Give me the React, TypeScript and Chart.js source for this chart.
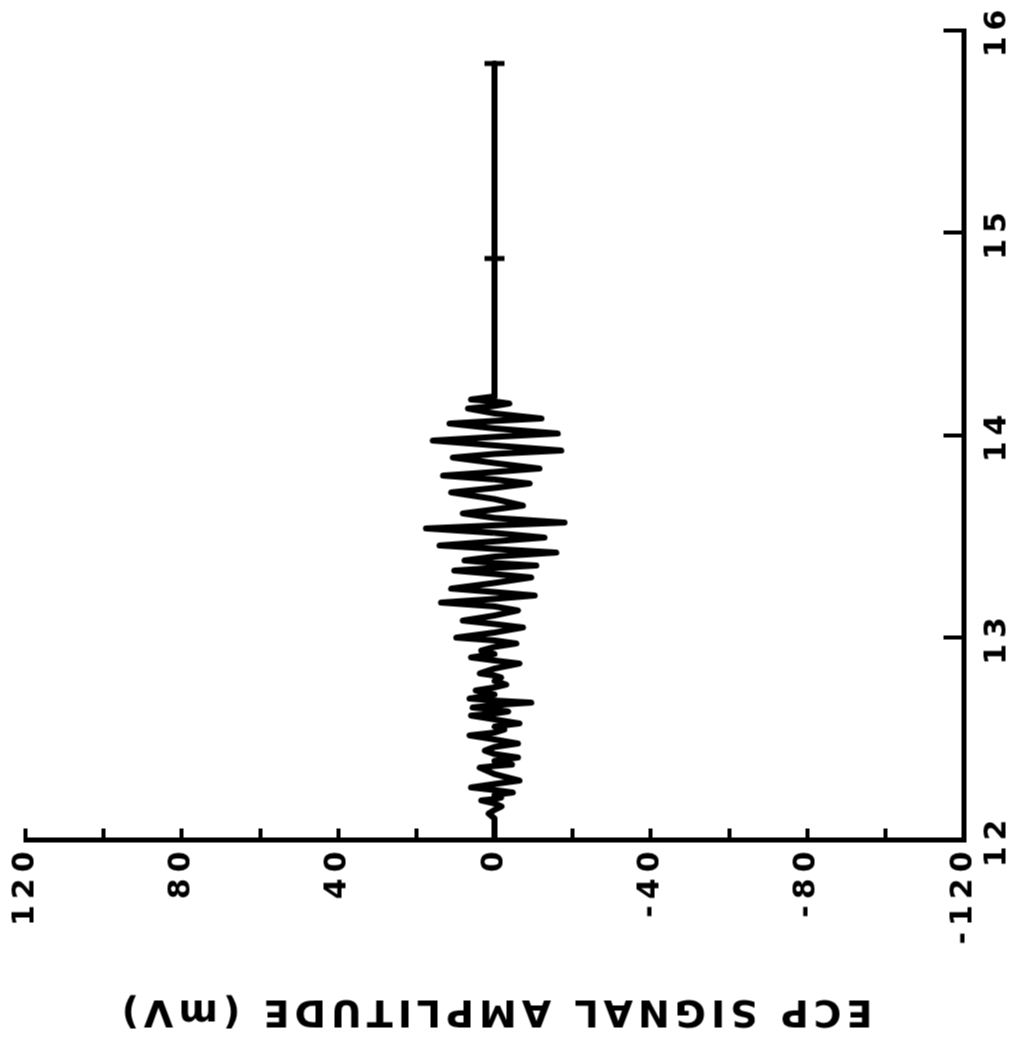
import React, { useEffect, useRef } from "react";
import { Chart, registerables } from "chart.js";

Chart.register(...registerables);

// Time axis (s) and amplitude axis (mV)
const timeMin = 12;
const timeMax = 16;
const timeStep = 1;
const ampMin = -120;
const ampMax = 120;
const ampStep = 20;
const ampLabelEvery = 40;

const yTitle = "ECP SIGNAL AMPLITUDE (mV)";

// ECP trace: time (s) and amplitude (mV)
const times = [
  12.0, 12.109, 12.133, 12.151, 12.168, 12.183, 12.198, 12.205, 12.212, 12.225,
  12.237, 12.249, 12.262, 12.279, 12.296, 12.328, 12.36, 12.368, 12.375, 12.393,
  12.41, 12.427, 12.444, 12.462, 12.479, 12.499, 12.519, 12.533, 12.548, 12.563,
  12.578, 12.598, 12.617, 12.627, 12.637, 12.647, 12.657, 12.669, 12.681, 12.691,
  12.701, 12.721, 12.741, 12.756, 12.77, 12.788, 12.805, 12.815, 12.825, 12.849,
  12.874, 12.889, 12.904, 12.921, 12.938, 12.956, 12.973, 12.988, 13.002, 13.027,
  13.052, 13.069, 13.086, 13.111, 13.136, 13.156, 13.175, 13.193, 13.21, 13.227,
  13.244, 13.272, 13.299, 13.316, 13.333, 13.346, 13.358, 13.37, 13.383, 13.402,
  13.422, 13.44, 13.457, 13.477, 13.496, 13.519, 13.541, 13.556, 13.57, 13.593,
  13.615, 13.635, 13.654, 13.686, 13.719, 13.741, 13.763, 13.783, 13.802, 13.82,
  13.837, 13.864, 13.891, 13.909, 13.926, 13.951, 13.975, 13.993, 14.01, 14.035,
  14.059, 14.072, 14.084, 14.109, 14.133, 14.146, 14.158, 14.168, 14.178, 14.193,
  14.874, 15.837,
];
const amplitudes = [
  0, 0, 1.5, 0, -1.8, 0, 3.4, 0, -1.7, 0,
  -4.7, 0, 6.0, 0, -6.4, 0, 3.8, 0, -4.5, 0,
  -6.0, 0, 2.5, 0, -6.0, 0, 6.4, 0, -2.5, 0,
  -6.4, 0, 6.0, 0, -3.5, 0, 5.6, 0, -9.4, 0,
  6.4, 0, 4.8, 0, -3.0, 0, -1.7, 0, 3.8, 0,
  -6.4, 0, 6.0, 0, 3.4, 0, -5.6, 0, 9.8, 0,
  -7.3, 0, 8.1, 0, -6.0, 0, 13.7, 0, -10.3, 0,
  11.1, 0, -9.4, 0, 10.3, 0, -10.7, 0, 7.7, 0,
  -15.8, 0, 14.1, 0, -12.8, 0, 17.5, 0, -17.9, 0,
  8.1, 0, -7.3, 0, 11.1, 0, -9.0, 0, 13.2, 0,
  -11.5, 0, 10.7, 0, -17.1, 0, 15.8, 0, -16.2, 0,
  11.5, 0, -12.0, 0, 6.8, 0, -3.8, 0, 6.0, 0,
  0, 0,
];

// Marks on the trace (mid mark and end cap)
const markerTimes = [14.874, 15.837];
const markerValues = [0, 0];

const FONT = "'DejaVu Sans', sans-serif";

const spacingPlugin = {
  id: "textSpacing",
  beforeDraw(chart: any) {
    chart.ctx.letterSpacing = "5px"; // axis title (drawn with grid layer)
  },
  afterDatasetsDraw(chart: any) {
    chart.ctx.letterSpacing = "6px"; // tick labels (z: 1)
  },
  afterDraw(chart: any) {
    chart.ctx.letterSpacing = "0px";
  },
};

export default function App() {
  const ref = useRef<HTMLCanvasElement | null>(null);

  useEffect(() => {
    if (!ref.current) return;
    const signal = times.map((t, i) => ({ x: t, y: amplitudes[i] }));
    const marks = markerTimes.map((t, i) => ({ x: t, y: markerValues[i] }));

    const chart = new Chart(ref.current, {
      type: "scatter",
      data: {
        datasets: [
          {
            label: "ECP",
            data: signal,
            showLine: true,
            borderColor: "#000",
            borderWidth: 6,
            borderJoinStyle: "round",
            borderCapStyle: "round",
            pointRadius: 0,
            tension: 0,
          },
          {
            label: "marks",
            data: marks,
            showLine: false,
            pointStyle: "line",
            pointRotation: 90,
            pointRadius: 10,
            pointBorderWidth: 5,
            borderColor: "#000",
            backgroundColor: "#000",
          },
        ],
      },
      options: {
        animation: false,
        responsive: false,
        devicePixelRatio: 1,
        layout: { padding: { top: 25, right: 30, bottom: 0, left: 0 } },
        plugins: {
          legend: { display: false },
          tooltip: { enabled: false },
        },
        scales: {
          x: {
            type: "linear",
            position: "bottom",
            min: timeMin,
            max: timeMax,
            ticks: {
              stepSize: timeStep,
              z: 1,
              color: "#000",
              padding: 36,
              maxRotation: 0,
              minRotation: 0,
              autoSkip: false,
              font: { family: FONT, weight: "bold", size: 30 },
            },
            grid: {
              drawOnChartArea: false,
              drawTicks: true,
              tickLength: -20,
              lineWidth: 4,
              color: "#000",
            },
            border: { display: true, width: 5, color: "#000" },
            afterFit: (s: any) => {
              s.height = 47;
              s.paddingLeft = 0;
              s.paddingRight = 0;
            },
          },
          y: {
            type: "linear",
            min: ampMin,
            max: ampMax,
            ticks: {
              stepSize: ampStep,
              z: 1,
              color: "#000",
              padding: 17,
              autoSkip: false,
              font: { family: FONT, weight: "bold", size: 30 },
              callback: (v: any) => (Number(v) % ampLabelEvery === 0 ? String(v) : ""),
            },
            grid: {
              drawOnChartArea: false,
              drawTicks: true,
              tickLength: -12,
              lineWidth: 4,
              color: "#000",
            },
            border: { display: true, width: 5, color: "#000" },
            title: {
              display: true,
              text: yTitle,
              color: "#000",
              font: { family: FONT, weight: "bold", size: 38 },
              padding: { top: 4, bottom: 4 },
            },
            afterFit: (s: any) => {
              s.width = 197;
              s.paddingTop = 0;
              s.paddingBottom = 0;
            },
          },
        },
      },
      plugins: [spacingPlugin],
    } as any);

    return () => chart.destroy();
  }, []);

  return (
    <div
      style={{
        position: "fixed",
        left: 0,
        top: 0,
        width: 1010,
        height: 1037,
        overflow: "hidden",
        background: "#fff",
      }}
    >
      <div
        style={{
          position: "absolute",
          left: -13.5,
          top: 13.5,
          width: 1037,
          height: 1010,
          transform: "rotate(-90deg)",
          transformOrigin: "50% 50%",
        }}
      >
        <canvas ref={ref} width={1037} height={1010} style={{ display: "block" }} />
      </div>
    </div>
  );
}
